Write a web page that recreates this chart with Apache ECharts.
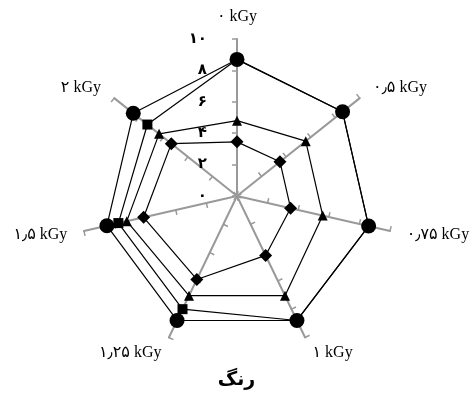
<!DOCTYPE html>
<html>
<head>
<meta charset="utf-8">
<script src="https://cdn.jsdelivr.net/npm/echarts@6/dist/echarts.min.js"></script>
<style>
  html, body { margin: 0; padding: 0; background: #fff; }
</style>
</head>
<body>
<div id="chart" style="width:473px;height:396px"></div>
<script>
  // axes in clockwise order, starting at the top
  const categories = ['۰ kGy', '۰٫۵ kGy', '۰٫۷۵ kGy', '۱ kGy', '۱٫۲۵ kGy', '۱٫۵ kGy', '۲ kGy'];
  const circleValues = [8.7, 8.6, 8.6, 8.8, 8.8, 8.5, 8.45];
  const squareValues = [8.7, 8.6, 8.6, 8.8, 8.0, 7.75, 7.3];
  const triangleValues = [4.8, 5.6, 5.6, 7.05, 7.05, 7.2, 6.35];
  const diamondValues = [3.45, 3.5, 3.5, 4.2, 5.9, 6.1, 5.35];
  const tickLabels = ['۰', '۲', '۴', '۶', '۸', '۱۰'];

  // echarts lays indicators out counter-clockwise, so flip everything after the first
  const flip = arr => [arr[0]].concat(arr.slice(1).reverse());

  const myChart = echarts.init(document.getElementById('chart'));

  const lineStyle = { color: '#000', width: 1.2 };
  const mkSeries = (values, symbol, size) => ({
    type: 'radar',
    symbol: symbol,
    symbolSize: size,
    lineStyle: lineStyle,
    itemStyle: { color: '#000' },
    data: [{ value: flip(values) }],
    z: 3
  });

  const option = {
    animation: false,
    title: {
      text: 'رنگ',
      left: 'center',
      top: 366,
      textStyle: { fontFamily: 'DejaVu Sans', fontWeight: 'bold', fontSize: 19, color: '#000' }
    },
    radar: {
      center: [237, 196],
      radius: 157,
      startAngle: 90,
      splitNumber: 5,
      shape: 'polygon',
      indicator: flip(categories).map((name, i) => {
        const ind = { name: name, min: 0, max: 10 };
        // only the top axis carries value labels
        if (i > 0) ind.axisLabel = { show: false };
        else ind.nameGap = 14;
        return ind;
      }),
      axisName: {
        color: '#000',
        fontFamily: 'Liberation Serif, DejaVu Sans',
        fontSize: 16
      },
      nameGap: 17,
      axisLine: { lineStyle: { color: '#999', width: 2 } },
      axisTick: { show: true, length: 5, lineStyle: { color: '#999', width: 1.5 } },
      axisLabel: {
        show: true,
        color: '#000',
        fontWeight: 'bold',
        fontSize: 15,
        fontFamily: 'DejaVu Sans',
        margin: 30,
        padding: [8, 0, 0, 0],
        formatter: v => tickLabels[Math.round(v / 2)]
      },
      splitLine: { show: false },
      splitArea: { show: false }
    },
    series: [
      mkSeries(circleValues, 'circle', 15),
      mkSeries(squareValues, 'rect', 10),
      mkSeries(triangleValues, 'triangle', 10),
      mkSeries(diamondValues, 'diamond', 13)
    ]
  };
  myChart.setOption(option);
</script>
</body>
</html>
